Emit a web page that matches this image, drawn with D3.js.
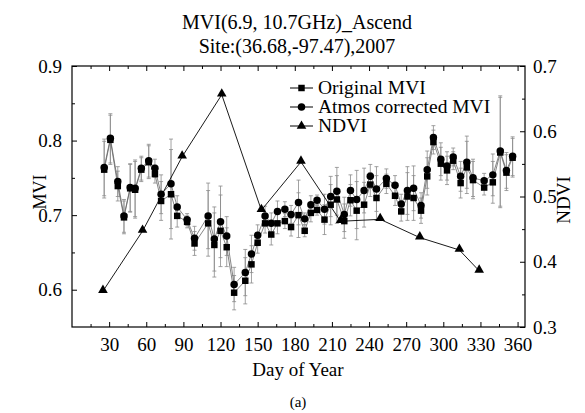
<!DOCTYPE html>
<html>
<head>
<meta charset="utf-8">
<script src="https://cdn.jsdelivr.net/npm/d3@7"></script>
<style>
  body { margin: 0; background: #fff; }
  svg text { font-family: "Liberation Serif", "DejaVu Serif", serif; fill: #000; }
</style>
</head>
<body>
<svg id="chart" width="585" height="413"></svg>
<script>
// day of year for each MVI sample
var days = [26, 31, 37, 42, 47, 51, 56, 62, 67, 72, 80, 85, 93, 99, 110, 115, 120, 125, 131, 140,
  145, 150, 156, 161, 166, 172, 177, 183, 188, 193, 198, 204, 209, 214, 220, 225, 230, 236, 241, 246,
  254, 261, 266, 271, 276, 282, 287, 292, 298, 303, 308, 314, 319, 324, 333, 340, 346, 351, 356];
var originalMVI = [0.761, 0.801, 0.739, 0.697, 0.736, 0.734, 0.761, 0.771, 0.755, 0.719, 0.728, 0.699, 0.691, 0.662, 0.689, 0.660, 0.679, 0.657, 0.596, 0.612,
  0.634, 0.663, 0.689, 0.674, 0.689, 0.692, 0.684, 0.700, 0.679, 0.703, 0.707, 0.694, 0.714, 0.721, 0.692, 0.720, 0.706, 0.714, 0.741, 0.723,
  0.742, 0.726, 0.705, 0.725, 0.723, 0.706, 0.752, 0.798, 0.769, 0.760, 0.773, 0.743, 0.764, 0.747, 0.737, 0.744, 0.784, 0.757, 0.777];
var atmosMVI = [0.764, 0.803, 0.745, 0.699, 0.737, 0.736, 0.763, 0.773, 0.763, 0.728, 0.742, 0.711, 0.694, 0.669, 0.699, 0.668, 0.691, 0.672, 0.607, 0.623,
  0.648, 0.673, 0.699, 0.689, 0.705, 0.708, 0.701, 0.717, 0.695, 0.714, 0.720, 0.708, 0.725, 0.732, 0.701, 0.733, 0.721, 0.733, 0.752, 0.735,
  0.749, 0.740, 0.715, 0.733, 0.736, 0.713, 0.761, 0.804, 0.775, 0.766, 0.778, 0.752, 0.771, 0.750, 0.746, 0.754, 0.786, 0.760, 0.779];
var mviError = [0.038, 0.033, 0.020, 0.022, 0.032, 0.038, 0.016, 0.022, 0.012, 0.026, 0.060, 0.015, 0.008, 0.016, 0.044, 0.043, 0.048, 0.026, 0.023, 0.031,
  0.025, 0.014, 0.013, 0.014, 0.014, 0.010, 0.012, 0.030, 0.008, 0.012, 0.007, 0.020, 0.027, 0.032, 0.023, 0.021, 0.039, 0.030, 0.016, 0.030,
  0.013, 0.013, 0.013, 0.032, 0.030, 0.017, 0.025, 0.016, 0.022, 0.019, 0.012, 0.020, 0.035, 0.025, 0.010, 0.028, 0.074, 0.024, 0.026];

var ndviDays = [25, 57, 89, 121, 153, 185, 217, 249, 281, 313, 329];
var ndvi = [0.355, 0.447, 0.561, 0.656, 0.479, 0.553, 0.462, 0.465, 0.437, 0.418, 0.386];

var xTicks = [30, 60, 90, 120, 150, 180, 210, 240, 270, 300, 330, 360];
var leftTicks = [0.6, 0.7, 0.8, 0.9];
var rightTicks = [0.3, 0.4, 0.5, 0.6, 0.7];
var legendNames = ["Original MVI", "Atmos corrected MVI", "NDVI"];

var svg = d3.select("#chart");
var pLeft = 72, pRight = 525, pTop = 66, pBottom = 327;

var x = d3.scaleLinear().domain([0, 366]).range([pLeft, pRight]);
var yL = d3.scaleLinear().domain([0.55, 0.9]).range([pBottom, pTop]);
var yR = d3.scaleLinear().domain([0.3, 0.7]).range([pBottom, pTop]);

// titles
svg.append("text").attr("x", 297).attr("y", 29).attr("text-anchor", "middle")
  .style("font-size", "20px").text("MVI(6.9, 10.7GHz)_Ascend");
svg.append("text").attr("x", 297).attr("y", 53).attr("text-anchor", "middle")
  .style("font-size", "20px").text("Site:(36.68,-97.47),2007");

// axes: minor ticks then major ticks, all pointing inward
function styleAxis(g) {
  g.select(".domain").remove();
  g.selectAll("line").attr("stroke", "#000").attr("stroke-width", 1);
  g.selectAll("text").style("font-size", "19px").attr("font-family", null);
}
var minorX = d3.range(15, 361, 30);
svg.append("g").attr("transform", "translate(0," + pBottom + ")")
  .call(d3.axisBottom(x).tickValues(minorX).tickSize(-3).tickFormat(""))
  .call(styleAxis);
svg.append("g").attr("transform", "translate(0," + pBottom + ")")
  .call(d3.axisBottom(x).tickValues(xTicks).tickSize(-5).tickPadding(11).tickFormat(d3.format("d")))
  .call(styleAxis);
svg.append("g").attr("transform", "translate(0," + pTop + ")")
  .call(d3.axisTop(x).tickValues(minorX).tickSize(-3).tickFormat(""))
  .call(styleAxis);
svg.append("g").attr("transform", "translate(0," + pTop + ")")
  .call(d3.axisTop(x).tickValues(xTicks).tickSize(-5).tickFormat(""))
  .call(styleAxis);

svg.append("g").attr("transform", "translate(" + pLeft + ",0)")
  .call(d3.axisLeft(yL).tickValues([0.65, 0.75, 0.85]).tickSize(-3).tickFormat(""))
  .call(styleAxis);
svg.append("g").attr("transform", "translate(" + pLeft + ",0)")
  .call(d3.axisLeft(yL).tickValues(leftTicks).tickSize(-5).tickPadding(10).tickFormat(d3.format(".1f")))
  .call(styleAxis);
svg.append("g").attr("transform", "translate(" + pRight + ",0)")
  .call(d3.axisRight(yR).tickValues([0.35, 0.45, 0.55, 0.65]).tickSize(-3).tickFormat(""))
  .call(styleAxis);
svg.append("g").attr("transform", "translate(" + pRight + ",0)")
  .call(d3.axisRight(yR).tickValues(rightTicks).tickSize(-5).tickPadding(8).tickFormat(d3.format(".1f")))
  .call(styleAxis);

svg.append("rect").attr("x", pLeft).attr("y", pTop)
  .attr("width", pRight - pLeft).attr("height", pBottom - pTop)
  .attr("fill", "none").attr("stroke", "#000").attr("stroke-width", 1.2);

// axis titles
svg.append("text").attr("x", 298).attr("y", 376).attr("text-anchor", "middle")
  .style("font-size", "19px").text("Day of Year");
svg.append("text").attr("x", 298).attr("y", 407).attr("text-anchor", "middle")
  .style("font-size", "15px").text("(a)");
svg.append("text").attr("transform", "translate(46,192) rotate(-90)").attr("text-anchor", "middle")
  .style("font-size", "18px").text("MVI");
svg.append("text").attr("transform", "translate(570,200) rotate(-90)").attr("text-anchor", "middle")
  .style("font-size", "19px").text("NDVI");

// error bars for both MVI series
function errorBars(vals) {
  var g = svg.append("g").attr("stroke", "#8a8a8a").attr("stroke-width", 0.8);
  days.forEach(function(d, i) {
    var cx = x(d), y1 = yL(vals[i] + mviError[i]), y2 = yL(vals[i] - mviError[i]);
    g.append("line").attr("x1", cx).attr("x2", cx).attr("y1", y1).attr("y2", y2);
    g.append("line").attr("x1", cx - 2).attr("x2", cx + 2).attr("y1", y1).attr("y2", y1);
    g.append("line").attr("x1", cx - 2).attr("x2", cx + 2).attr("y1", y2).attr("y2", y2);
  });
}
errorBars(originalMVI);
errorBars(atmosMVI);

var mviLine = function(vals) {
  return d3.line().x(function(d, i) { return x(days[i]); }).y(function(d) { return yL(d); })(vals);
};
svg.append("path").attr("d", mviLine(originalMVI)).attr("fill", "none")
  .attr("stroke", "#666").attr("stroke-width", 0.8);
svg.append("path").attr("d", mviLine(atmosMVI)).attr("fill", "none")
  .attr("stroke", "#666").attr("stroke-width", 0.8);

var ndviLine = d3.line().x(function(d, i) { return x(ndviDays[i]); }).y(function(d) { return yR(d); });
svg.append("path").attr("d", ndviLine(ndvi)).attr("fill", "none")
  .attr("stroke", "#000").attr("stroke-width", 0.9);

var sq = d3.symbol().type(d3.symbolSquare).size(42);
var ci = d3.symbol().type(d3.symbolCircle).size(44);
var tri = d3.symbol().type(d3.symbolTriangle).size(40);

svg.append("g").selectAll("path").data(originalMVI).join("path")
  .attr("d", sq).attr("fill", "#000")
  .attr("transform", function(d, i) { return "translate(" + x(days[i]) + "," + yL(d) + ")"; });
svg.append("g").selectAll("path").data(atmosMVI).join("path")
  .attr("d", ci).attr("fill", "#000")
  .attr("transform", function(d, i) { return "translate(" + x(days[i]) + "," + yL(d) + ")"; });
svg.append("g").selectAll("path").data(ndvi).join("path")
  .attr("d", tri).attr("fill", "#000")
  .attr("transform", function(d, i) { return "translate(" + x(ndviDays[i]) + "," + (yR(d) - 1) + ")"; });

// legend
var symbols = [sq, ci, tri];
legendNames.forEach(function(name, i) {
  var ly = 88 + i * 19;
  svg.append("line").attr("x1", 290).attr("x2", 313).attr("y1", ly).attr("y2", ly)
    .attr("stroke", "#000").attr("stroke-width", 1);
  svg.append("path").attr("d", symbols[i]).attr("fill", "#000")
    .attr("transform", "translate(301.5," + ly + ")");
  svg.append("text").attr("x", 318).attr("y", ly + 6).style("font-size", "19.5px").text(name);
});
</script>
</body>
</html>
